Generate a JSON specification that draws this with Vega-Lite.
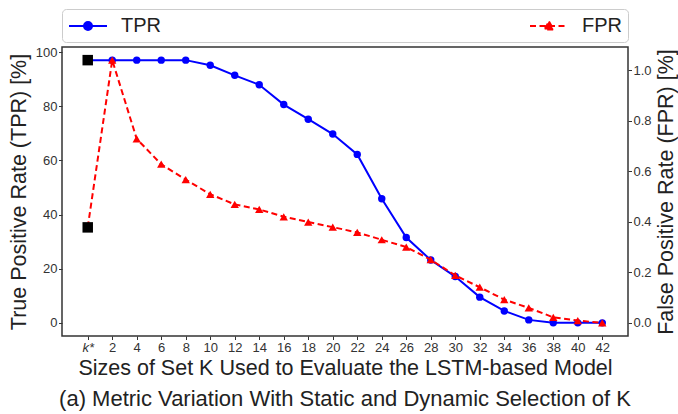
{
  "$schema": "https://vega.github.io/schema/vega-lite/v6.json",
  "autosize": "none",
  "width": 566,
  "height": 289,
  "padding": {"left": 62, "top": 47, "right": 50, "bottom": 78},
  "background": "white",
  "config": {
    "font": "Liberation Sans",
    "view": {"stroke": "#333333", "strokeWidth": 1.5},
    "axis": {"grid": false, "domain": false, "labelFont": "Liberation Sans", "titleFont": "Liberation Sans", "labelFontSize": 13, "titleFontSize": 21.5, "labelColor": "#333333", "titleColor": "#222222", "titleFontWeight": "normal", "tickColor": "#333333", "tickSize": 3.5, "labelPadding": 1.5}
  },
  "title": {"text": "(a) Metric Variation With Static and Dynamic Selection of K", "orient": "bottom", "offset": 10, "fontSize": 22, "font": "Liberation Sans", "fontWeight": "normal", "color": "#222222"},
  "data": {"values": [
    {"k": 0, "tpr": 97.0, "fpr": 0.378},
    {"k": 2, "tpr": 97.0, "fpr": 1.04},
    {"k": 4, "tpr": 97.0, "fpr": 0.728},
    {"k": 6, "tpr": 97.0, "fpr": 0.628},
    {"k": 8, "tpr": 97.0, "fpr": 0.567},
    {"k": 10, "tpr": 95.1, "fpr": 0.509},
    {"k": 12, "tpr": 91.4, "fpr": 0.469},
    {"k": 14, "tpr": 87.9, "fpr": 0.449},
    {"k": 16, "tpr": 80.6, "fpr": 0.42},
    {"k": 18, "tpr": 75.2, "fpr": 0.399},
    {"k": 20, "tpr": 69.7, "fpr": 0.379},
    {"k": 22, "tpr": 62.2, "fpr": 0.358},
    {"k": 24, "tpr": 45.8, "fpr": 0.329},
    {"k": 26, "tpr": 31.5, "fpr": 0.3},
    {"k": 28, "tpr": 23.2, "fpr": 0.25},
    {"k": 30, "tpr": 17.1, "fpr": 0.188},
    {"k": 32, "tpr": 9.5, "fpr": 0.141},
    {"k": 34, "tpr": 4.4, "fpr": 0.092},
    {"k": 36, "tpr": 1.1, "fpr": 0.059},
    {"k": 38, "tpr": 0.0, "fpr": 0.022},
    {"k": 40, "tpr": 0.0, "fpr": 0.009},
    {"k": 42, "tpr": 0.0, "fpr": 0.0}
  ]},
  "encoding": {
    "x": {"field": "k", "type": "quantitative",
      "scale": {"domain": [-2.1, 44.1], "nice": false, "zero": false},
      "axis": {"values": [0,2,4,6,8,10,12,14,16,18,20,22,24,26,28,30,32,34,36,38,40,42], "labelExpr": "datum.value == 0 ? 'k*' : datum.label",
        "labelFontStyle": {"condition": {"test": "datum.value == 0", "value": "italic"}, "value": "normal"},
        "title": "Sizes of Set K Used to Evaluate the LSTM-based Model", "titleFontSize": 21.5, "titlePadding": 3, "labelFlush": false, "labelOverlap": false}}
  },
  "layer": [
    {
      "layer": [
        {
          "mark": {"type": "line", "strokeWidth": 2},
          "encoding": {
            "y": {"field": "tpr", "type": "quantitative", "scale": {"domain": [-4.85, 101.85], "nice": false, "zero": false},
              "axis": {"values": [0,20,40,60,80,100], "title": "True Positive Rate (TPR) [%]", "titlePadding": 5}},
            "color": {"datum": "TPR", "type": "nominal",
              "scale": {"domain": ["TPR", "FPR"], "range": ["#0000ff", "#ff0000"]},
              "legend": {
                "title": null, "orient": "none", "legendX": 0, "legendY": -38, "direction": "horizontal",
                "columnPadding": 365, "padding": 6, "fillColor": "white", "strokeColor": "#cccccc", "cornerRadius": 4,
                "symbolSize": 400, "symbolStrokeWidth": 2, "symbolType": "M-1,0H2.8",
                "labelFontSize": 20, "labelOffset": 31, "labelFont": "Liberation Sans", "labelColor": "#222222",
                "encode": {"symbols": {"update": {
                  "shape": {"signal": "datum.value === 'TPR' ? 'M-1,0H2.8M1.3,0A0.4,0.4,0,1,1,0.5,0A0.4,0.4,0,1,1,1.3,0Z' : 'M-1,0H2.8M0.9,-0.45L1.35,0.35L0.45,0.35Z'"},
                  "strokeDash": {"signal": "datum.value === 'TPR' ? [] : [6, 3.5]"},
                  "fill": {"signal": "datum.value === 'TPR' ? '#0000ff' : '#ff0000'"},
                  "stroke": {"signal": "datum.value === 'TPR' ? '#0000ff' : '#ff0000'"},
                  "opacity": {"value": 1}
                }}}
              }}
          }
        },
        {
          "mark": {"type": "point", "shape": "circle", "filled": true, "size": 55, "opacity": 1, "color": "#0000ff"},
          "transform": [{"filter": "datum.k > 0"}],
          "encoding": {"y": {"field": "tpr", "type": "quantitative"}}
        },
        {
          "mark": {"type": "point", "shape": "square", "filled": true, "size": 110, "opacity": 1, "color": "black"},
          "transform": [{"filter": "datum.k == 0"}],
          "encoding": {"y": {"field": "tpr", "type": "quantitative"}}
        }
      ]
    },
    {
      "layer": [
        {
          "mark": {"type": "line", "strokeWidth": 2, "strokeDash": [6, 3.5]},
          "encoding": {
            "y": {"field": "fpr", "type": "quantitative", "scale": {"domain": [-0.052, 1.092], "nice": false, "zero": false},
              "axis": {"orient": "right", "values": [0,0.2,0.4,0.6,0.8,1.0], "format": ".1f", "title": "False Positive Rate (FPR) [%]", "titlePadding": 4, "titleAngle": 270, "titleBaseline": "top"}},
            "color": {"datum": "FPR", "type": "nominal"}
          }
        },
        {
          "mark": {"type": "point", "shape": "triangle-up", "filled": true, "size": 70, "opacity": 1, "color": "#ff0000"},
          "transform": [{"filter": "datum.k > 0"}],
          "encoding": {"y": {"field": "fpr", "type": "quantitative"}}
        },
        {
          "mark": {"type": "point", "shape": "square", "filled": true, "size": 110, "opacity": 1, "color": "black"},
          "transform": [{"filter": "datum.k == 0"}],
          "encoding": {"y": {"field": "fpr", "type": "quantitative"}}
        }
      ]
    }
  ],
  "resolve": {"scale": {"y": "independent"}}
}
